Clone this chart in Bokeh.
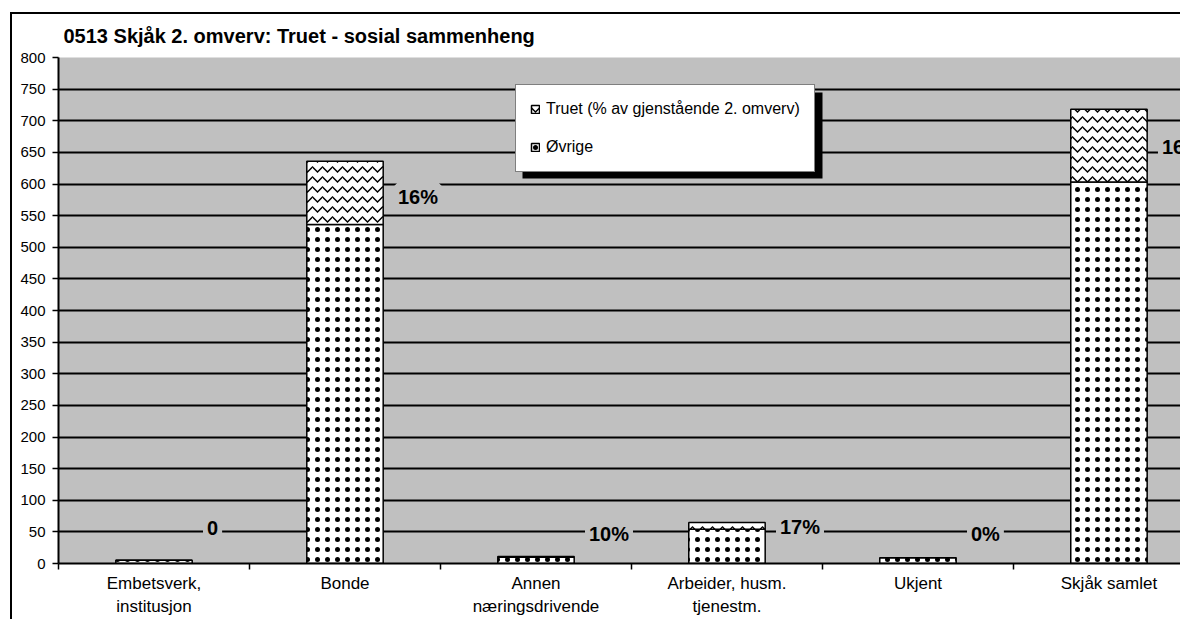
from bokeh.plotting import figure
from bokeh.models import (ColumnDataSource, Range1d, FixedTicker, LinearAxis, Legend, LegendItem,
                          LabelSet, BoxAnnotation, Grid)
from bokeh.core.properties import value
from bokeh.embed import file_html
from bokeh.resources import INLINE

# ---- data ----
categories = ["Embetsverk,\ninstitusjon", "Bonde", "Annen\nnæringsdrivende",
              "Arbeider, husm.\ntjenestm.", "Ukjent", "Skjåk samlet"]
ovrige = [5, 536, 10, 54, 9, 603]
truet = [0, 100, 1, 11, 0, 115]
pct_labels = ["0", "16%", "10%", "17%", "0%", "16%"]
label_anchor = [56, 579, 47, 57, 47, 658]
y_ticks = list(range(0, 801, 50))

FONT = "Liberation Sans"
GREY = "#c0c0c0"

xc = [i + 0.5 for i in range(len(categories))]
src = ColumnDataSource(dict(
    x=xc, ovrige=ovrige, truet=truet,
    top_total=[o + t for o, t in zip(ovrige, truet)],
    lab=pct_labels, laby=label_anchor,
))

p = figure(width=1170, height=607, output_backend="svg", toolbar_location=None,
           x_range=Range1d(0, 5.885), y_range=Range1d(0, 800),
           x_axis_type=None, y_axis_type=None,
           min_border_left=46, min_border_right=0, min_border_top=43, min_border_bottom=58)
p.margin = (12, 0, 0, 10)
p.styles = {"border-left": "2px solid black", "border-top": "2px solid black"}
p.background_fill_color = GREY
p.border_fill_color = "white"
p.outline_line_color = None

p.title.text = "0513 Skjåk 2. omverv: Truet - sosial sammenheng"
p.title.text_font = FONT
p.title.text_font_size = "20px"
p.title.text_font_style = "bold"
p.title.text_color = "black"
p.title.align = "left"
p.title.vertical_align = "top"
p.title.offset = 5
p.title.standoff = 18

# y axis
yax = LinearAxis(ticker=FixedTicker(ticks=y_ticks))
yax.axis_line_color = "black"
yax.axis_line_width = 2
yax.major_tick_out = 6
yax.major_tick_in = 0
yax.major_tick_line_color = "black"
yax.major_tick_line_width = 1.5
yax.minor_tick_line_color = None
yax.major_label_text_font = FONT
yax.major_label_text_font_size = "15px"
yax.major_label_text_color = "black"
yax.major_label_standoff = 7
p.add_layout(yax, "left")

# x axis
xax = LinearAxis(ticker=FixedTicker(ticks=xc, minor_ticks=list(range(len(categories) + 1))))
xax.major_label_overrides = {x: c for x, c in zip(xc, categories)}
xax.axis_line_color = "black"
xax.axis_line_width = 2
xax.major_tick_out = 0
xax.major_tick_in = 0
xax.major_tick_line_color = None
xax.minor_tick_out = 6
xax.minor_tick_in = 0
xax.minor_tick_line_color = "black"
xax.minor_tick_line_width = 1.5
xax.major_label_text_font = FONT
xax.major_label_text_font_size = "17px"
xax.major_label_text_color = "black"
xax.major_label_text_line_height = 1.25
xax.major_label_standoff = 4
p.add_layout(xax, "below")

# grid
grid = Grid(dimension=1, ticker=FixedTicker(ticks=[t for t in y_ticks if 0 < t < 800]),
            grid_line_color="black", grid_line_width=2)
p.add_layout(grid)

# bars
r_ov = p.vbar(x="x", top="ovrige", bottom=0, width=0.4, source=src,
              fill_color="white", line_color="black", line_width=1.5,
              hatch_pattern="dot", hatch_color="black", hatch_scale=10, hatch_weight=1)
r_tr = p.vbar(x="x", top="top_total", bottom="ovrige", width=0.4, source=src,
              fill_color="white", line_color="black", line_width=1.5,
              hatch_pattern="horizontal_wave", hatch_color="black", hatch_scale=10, hatch_weight=1.5)

# percentage labels (grey box masks the grid lines)
labels = LabelSet(x="x", y="laby", text="lab", source=src, x_offset=53,
                  text_align="left", text_baseline="middle",
                  text_font=value(FONT), text_font_size="20px", text_font_style="bold",
                  text_color="black", background_fill_color=GREY,
                  border_line_color=GREY, border_line_width=8)
p.add_layout(labels)

# legend shadow
shadow = BoxAnnotation(left=508, right=808, top=76, bottom=162,
                       left_units="canvas", right_units="canvas",
                       top_units="canvas", bottom_units="canvas",
                       fill_color="black", fill_alpha=1.0, line_color=None)
p.add_layout(shadow)

legend = Legend(items=[LegendItem(label="Truet (% av gjenstående 2. omverv)", renderers=[r_tr]),
                       LegendItem(label="Øvrige", renderers=[r_ov])],
                location=(457, 391))
legend.label_text_font = FONT
legend.label_text_font_size = "16px"
legend.label_text_color = "black"
legend.glyph_width = 10
legend.glyph_height = 10
legend.label_height = 20
legend.label_standoff = 6
legend.spacing = 18
legend.padding = 14
legend.margin = 0
legend.border_line_color = "black"
legend.border_line_width = 1
legend.background_fill_color = "white"
legend.background_fill_alpha = 1.0
p.add_layout(legend, "center")

open("out.html", "w").write(file_html(p, INLINE))
